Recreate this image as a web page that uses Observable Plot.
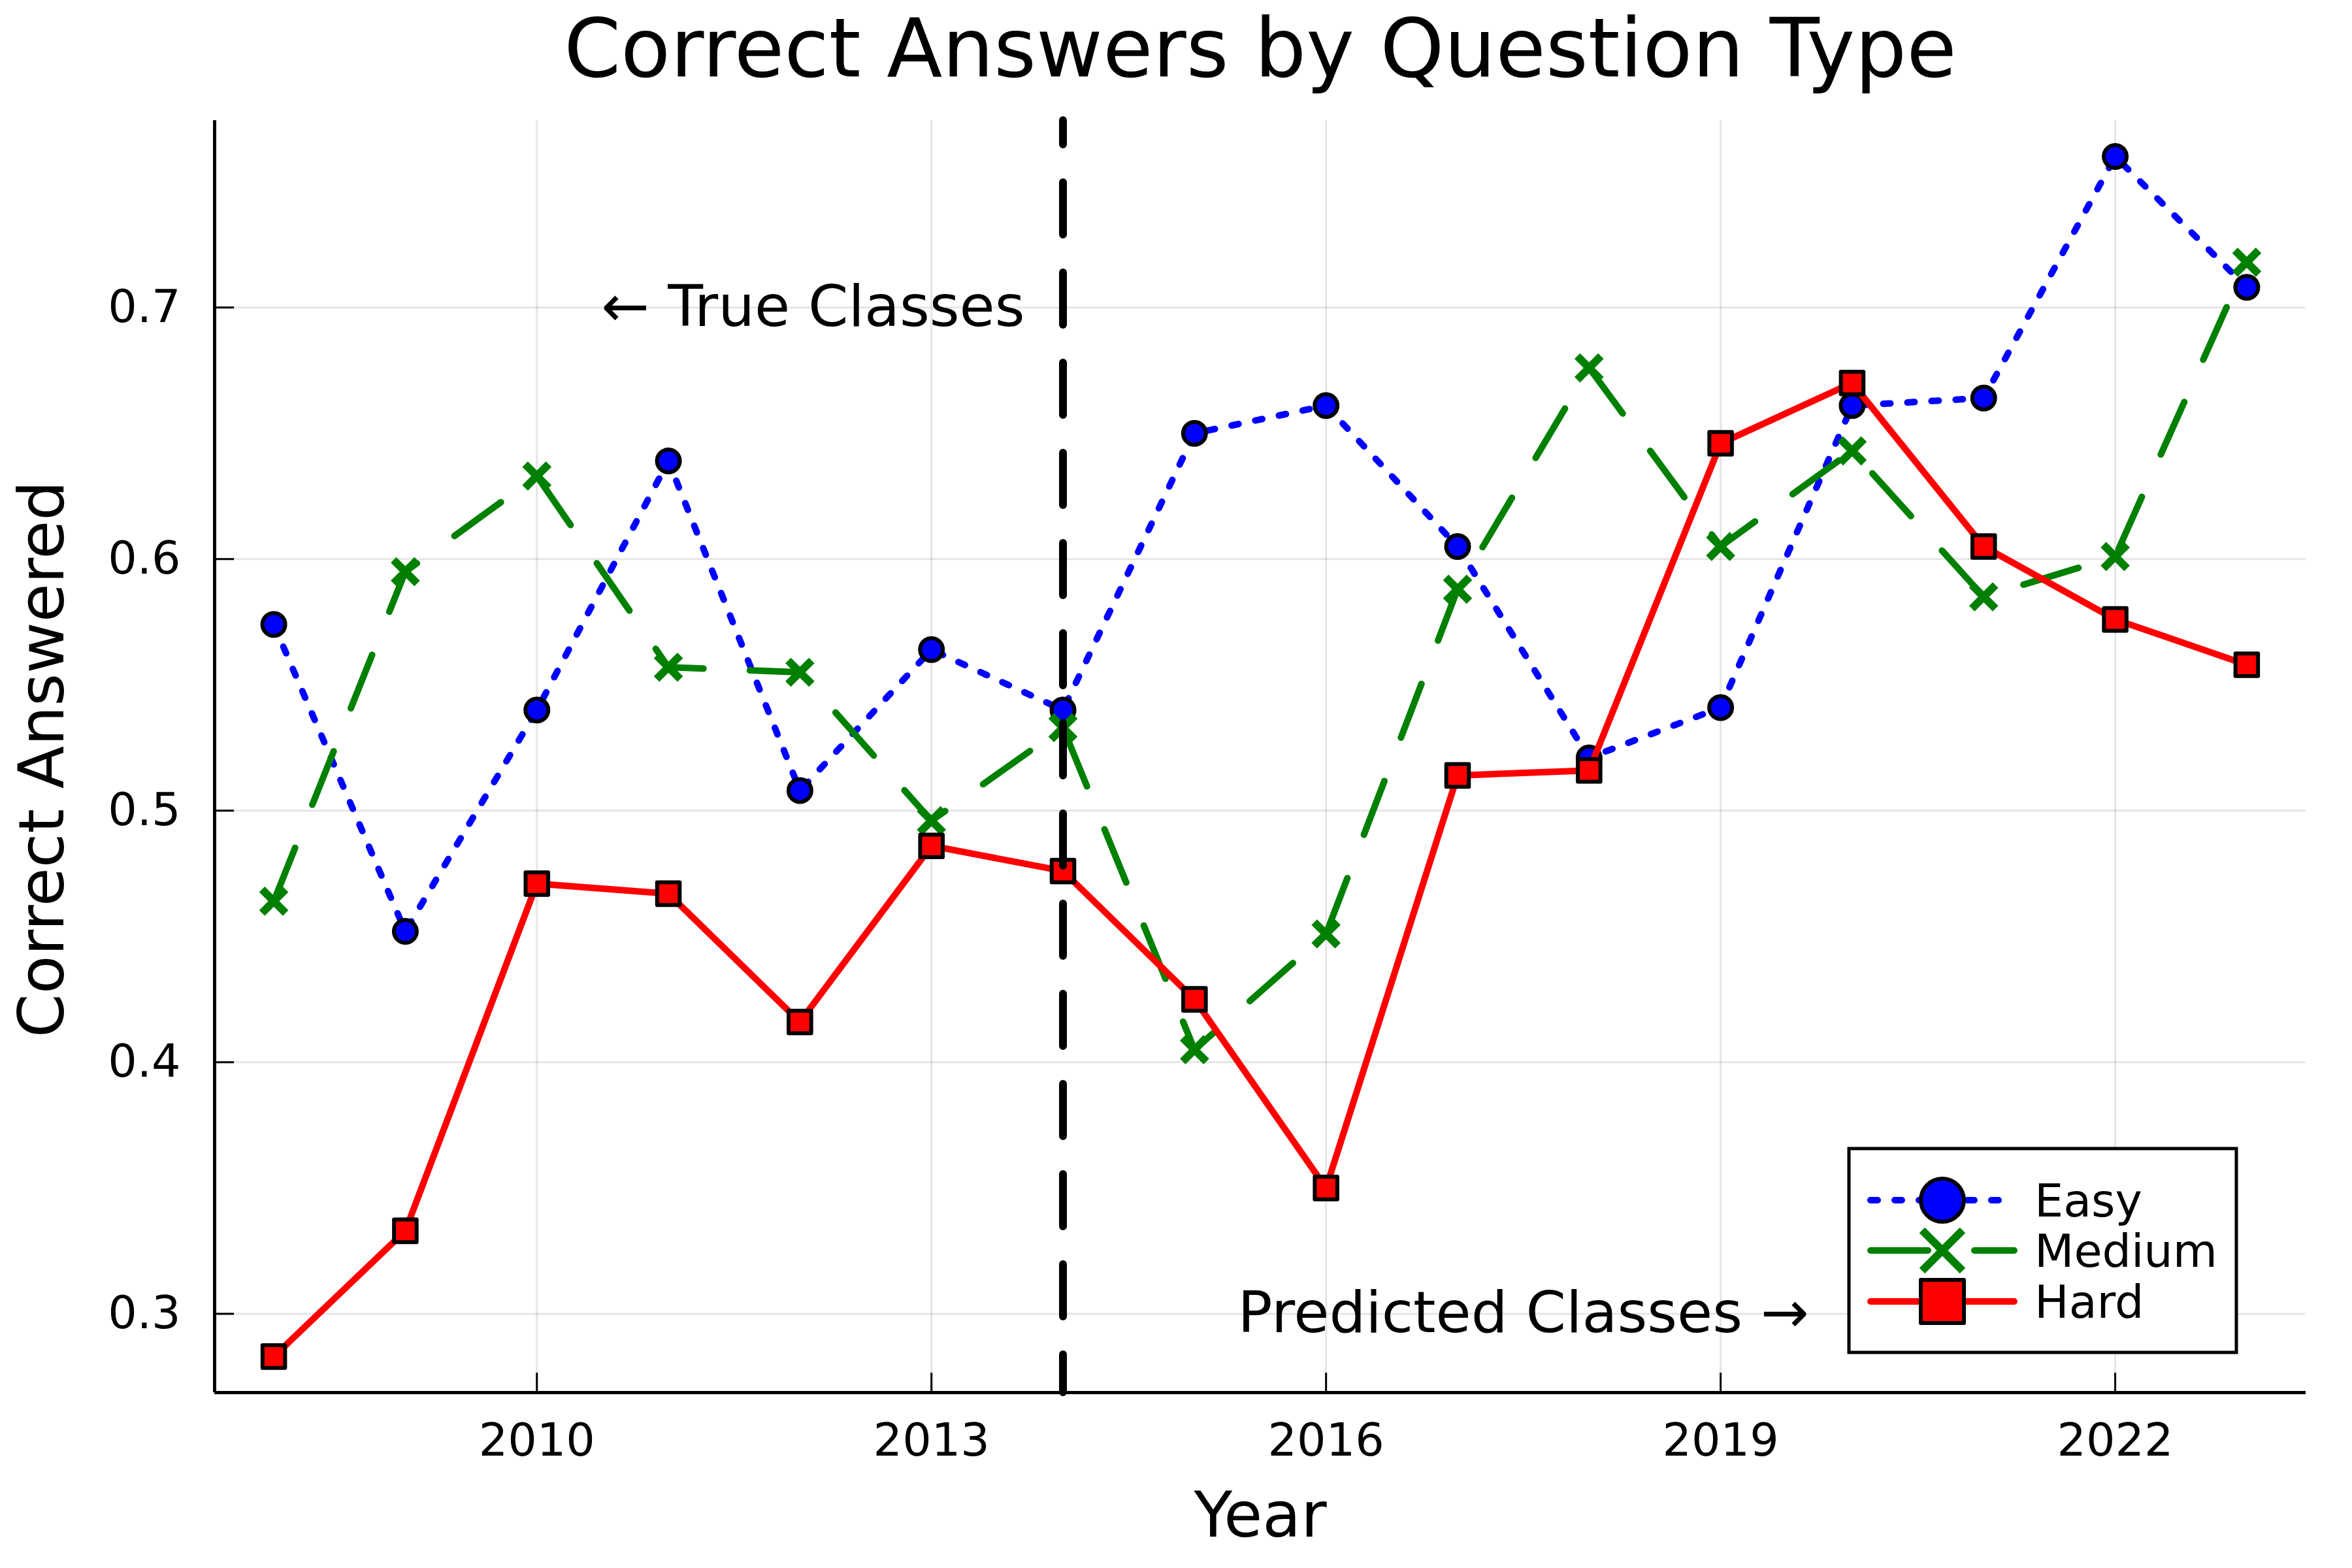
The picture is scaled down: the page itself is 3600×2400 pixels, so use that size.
<!DOCTYPE html>
<html>
<head>
<meta charset="utf-8">
<script src="https://cdn.jsdelivr.net/npm/d3@7"></script>
<script src="https://cdn.jsdelivr.net/npm/@observablehq/plot@0.6"></script>
<style>
  html, body { margin: 0; padding: 0; background: #ffffff; }
  #chart svg { display: block; }
</style>
</head>
<body>
<div id="chart"></div>
<script>
// ---- data ----
const years  = [2008, 2009, 2010, 2011, 2012, 2013, 2014, 2015, 2016, 2017, 2018, 2019, 2020, 2021, 2022, 2023];
const easy   = [0.574, 0.452, 0.540, 0.639, 0.508, 0.564, 0.540, 0.650, 0.661, 0.605, 0.521, 0.541, 0.661, 0.664, 0.760, 0.708];
const medium = [0.464, 0.595, 0.633, 0.557, 0.555, 0.496, 0.533, 0.405, 0.451, 0.588, 0.676, 0.605, 0.643, 0.585, 0.601, 0.718];
const hard   = [0.283, 0.333, 0.471, 0.467, 0.416, 0.486, 0.476, 0.425, 0.350, 0.514, 0.516, 0.646, 0.670, 0.605, 0.576, 0.558];
const seriesNames  = ["Easy", "Medium", "Hard"];
const seriesColors = ["#0000ff", "#008000", "#ff0000"];
const xTicks = [2010, 2013, 2016, 2019, 2022];
const yTicks = [0.3, 0.4, 0.5, 0.6, 0.7];
const splitYear = 2014;
const annotationX = [2012.1, 2017.5];
const annotationY = [0.7, 0.3];
const annotationText = ["← True Classes", "Predicted Classes →"];
const titleText = "Correct Answers by Question Type";
const xLabel = "Year";
const yLabel = "Correct Answered";

// ---- build ----
const seriesValues = [easy, medium, hard];
const rows = seriesNames.map((name, s) => years.map((yr, i) => ({series: name, year: yr, value: seriesValues[s][i]})));
const annotations = annotationText.map((t, i) => ({x: annotationX[i], y: annotationY[i], text: t}));

const pad = (lo, hi) => { const p = (hi - lo) * 0.03; return [lo - p, hi + p]; };
const allVals = [...easy, ...medium, ...hard];
const xDomain = pad(d3.min(years), d3.max(years));
const yDomain = pad(d3.min(allVals), d3.max(allVals));

const W = 3600, H = 2400;
const mL = 328, mR = 71, mT = 184, mB = 269;
const innerW = W - mL - mR, innerH = H - mT - mB;
const FONT = "DejaVu Sans";

const lineStyles = [
  {dash: "11,26", width: 10},
  {dash: "88,71", width: 10},
  {dash: null, width: 10}
];

const seriesMarks = [];
rows.forEach((data, s) => {
  seriesMarks.push(Plot.line(data, {
    x: "year", y: "value", stroke: seriesColors[s], strokeWidth: lineStyles[s].width,
    strokeDasharray: lineStyles[s].dash, strokeLinecap: "round", strokeLinejoin: "round"
  }));
  if (s === 0) {
    seriesMarks.push(Plot.dot(data, {x: "year", y: "value", symbol: "circle", r: 17.5, fill: seriesColors[s], stroke: "#000", strokeWidth: 6}));
  } else if (s === 1) {
    seriesMarks.push(Plot.dot(data, {x: "year", y: "value", symbol: "times", r: 16.5, stroke: seriesColors[s], strokeWidth: 12, strokeLinecap: "butt"}));
  } else {
    seriesMarks.push(Plot.dot(data, {x: "year", y: "value", symbol: "square", r: 19.5, fill: seriesColors[s], stroke: "#000", strokeWidth: 6, strokeLinejoin: "round"}));
  }
});

const chart = Plot.plot({
  width: W, height: H,
  marginLeft: mL, marginRight: mR, marginTop: mT, marginBottom: mB,
  style: {fontFamily: FONT, fontSize: "70px", background: "#ffffff", color: "#000"},
  x: {domain: xDomain},
  y: {domain: yDomain},
  marks: [
    Plot.gridX(xTicks, {stroke: "#000", strokeOpacity: 0.1, strokeWidth: 3}),
    Plot.gridY(yTicks, {stroke: "#000", strokeOpacity: 0.1, strokeWidth: 3}),
    Plot.axisX(xTicks, {tickSize: 0, tickPadding: 47, fontSize: 70, tickFormat: d => String(d), label: null}),
    Plot.axisY(yTicks, {tickSize: 0, tickPadding: 52, fontSize: 70, tickFormat: d3.format(".1f"), label: null}),
    Plot.tickX(xTicks, {x: d => d, insetTop: innerH - 30, stroke: "#000", strokeWidth: 3}),
    Plot.tickY(yTicks, {y: d => d, insetRight: innerW - 30, stroke: "#000", strokeWidth: 3}),
    ...seriesMarks,
    Plot.ruleX([splitYear], {stroke: "#000", strokeWidth: 12, strokeDasharray: "80,58", strokeDashoffset: 43, strokeLinecap: "round"}),
    Plot.ruleX([xDomain[0]], {stroke: "#000", strokeWidth: 5}),
    Plot.ruleY([yDomain[0]], {stroke: "#000", strokeWidth: 5}),
    Plot.text(annotations, {x: "x", y: "y", text: "text", fontSize: 88, textAnchor: "middle", lineAnchor: "middle", fill: "#000"}),
    Plot.text([titleText], {text: d => d, frameAnchor: "top", dy: -107, fontSize: 124.5, textAnchor: "middle", lineAnchor: "middle", fill: "#000"}),
    Plot.text([xLabel], {text: d => d, frameAnchor: "bottom", dy: 190, fontSize: 96, textAnchor: "middle", lineAnchor: "middle", fill: "#000"}),
    Plot.text([yLabel], {text: d => d, frameAnchor: "left", dx: -262, dy: 4, rotate: -90, fontSize: 96, textAnchor: "middle", lineAnchor: "middle", fill: "#000"})
  ]
});

// ---- legend (inside plot, bottom-right) ----
const svg = d3.select(chart);
const lg = svg.append("g").attr("font-family", FONT).attr("text-anchor", "start");
const box = {x: 2830, y: 1758, w: 593, h: 312};
lg.append("rect").attr("x", box.x).attr("y", box.y).attr("width", box.w).attr("height", box.h)
  .attr("fill", "#fff").attr("stroke", "#000").attr("stroke-width", 5);
const rowY = [1837, 1914, 1992];
const lx1 = 2863, lx2 = 3083, mx = 2973, tx = 3114;
seriesNames.forEach((name, s) => {
  const y = rowY[s];
  const ln = lg.append("line").attr("x1", lx1).attr("x2", lx2).attr("y1", y).attr("y2", y)
    .attr("stroke", seriesColors[s]).attr("stroke-width", lineStyles[s].width).attr("stroke-linecap", "round");
  if (lineStyles[s].dash) ln.attr("stroke-dasharray", lineStyles[s].dash);
  if (s === 0) {
    lg.append("circle").attr("cx", mx).attr("cy", y).attr("r", 33)
      .attr("fill", seriesColors[s]).attr("stroke", "#000").attr("stroke-width", 6);
  } else if (s === 1) {
    const r = 31;
    lg.append("path").attr("d", `M${mx - r},${y - r}L${mx + r},${y + r}M${mx - r},${y + r}L${mx + r},${y - r}`)
      .attr("stroke", seriesColors[s]).attr("stroke-width", 12).attr("fill", "none");
  } else {
    const a = 33;
    lg.append("rect").attr("x", mx - a).attr("y", y - a).attr("width", 2 * a).attr("height", 2 * a)
      .attr("fill", seriesColors[s]).attr("stroke", "#000").attr("stroke-width", 6).attr("stroke-linejoin", "round");
  }
  lg.append("text").attr("x", tx).attr("y", y).attr("dy", "0.35em").attr("font-size", 70)
    .attr("text-anchor", "start").attr("fill", "#000").text(name);
});

document.getElementById("chart").appendChild(chart);
</script>
</body>
</html>
